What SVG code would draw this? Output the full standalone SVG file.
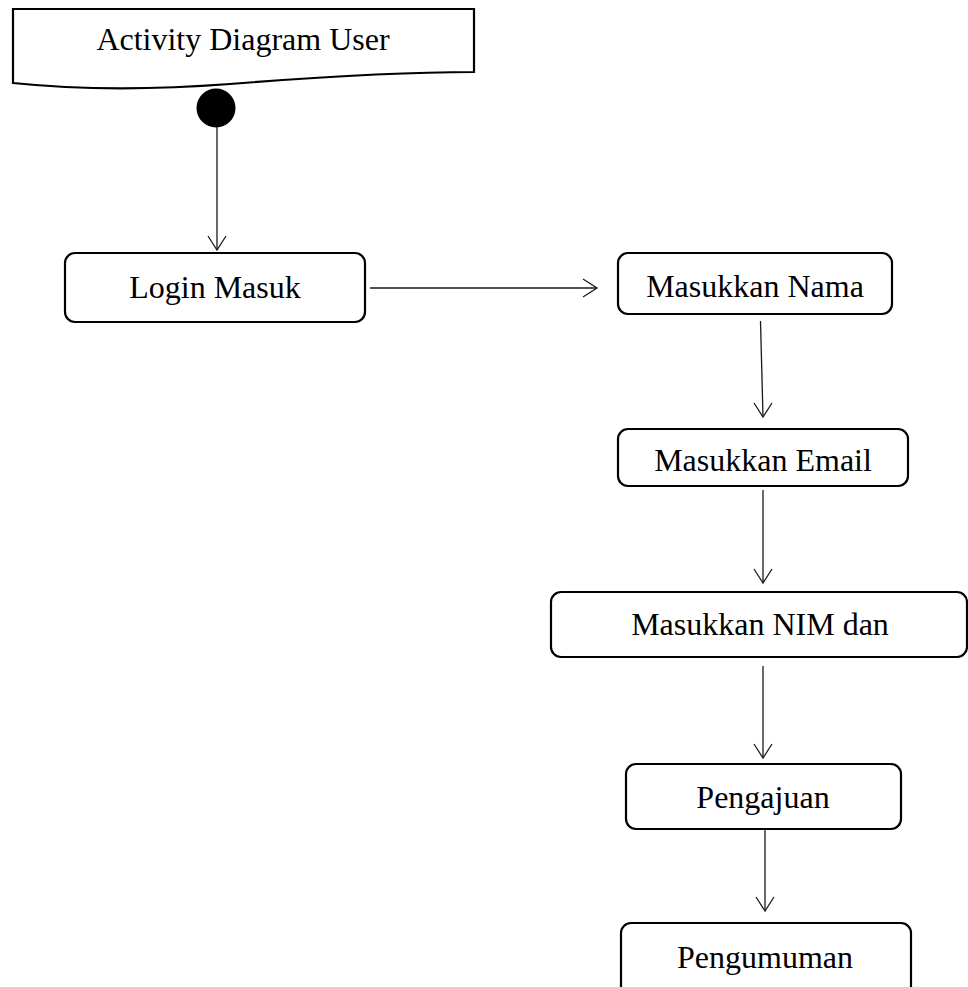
<svg xmlns="http://www.w3.org/2000/svg" width="968" height="987" viewBox="0 0 968 987">
  <style>
    .box { fill: #ffffff; stroke: #000000; stroke-width: 2.2; }
    .label { font-family: "Liberation Serif", "Times New Roman", serif; font-size: 32px; fill: #000000; text-anchor: middle; }
    .flow { fill: none; stroke: #1a1a1a; stroke-width: 1.3; }
    .head { fill: none; stroke: #1a1a1a; stroke-width: 1.3; stroke-linejoin: miter; }
  </style>
  <rect width="968" height="987" fill="#ffffff"/>

  <!-- title banner (note shape with wavy bottom) -->
  <g id="title">
    <path class="box" d="M13,9 L474,9 L474,72 C420,72 330,76 230,84 C150,90 80,90 13,83 Z"/>
    <text class="label" x="243" y="50">Activity Diagram User</text>
  </g>

  <!-- start node -->
  <g id="start">
    <circle cx="216" cy="108" r="19.5" fill="#000000"/>
  </g>

  <g id="login">
    <rect class="box" x="65" y="253" width="300" height="69" rx="10" ry="10"/>
    <text class="label" x="215" y="298">Login Masuk</text>
  </g>

  <g id="nama">
    <rect class="box" x="618" y="253" width="274" height="61" rx="10" ry="10"/>
    <text class="label" x="755" y="297">Masukkan Nama</text>
  </g>

  <g id="email">
    <rect class="box" x="618" y="429" width="290" height="57" rx="10" ry="10"/>
    <text class="label" x="763" y="471">Masukkan Email</text>
  </g>

  <g id="nim">
    <rect class="box" x="551" y="592" width="416" height="65" rx="10" ry="10"/>
    <text class="label" x="760" y="635">Masukkan NIM dan</text>
  </g>

  <g id="pengajuan">
    <rect class="box" x="626" y="764" width="275" height="65" rx="10" ry="10"/>
    <text class="label" x="763" y="808">Pengajuan</text>
  </g>

  <g id="pengumuman">
    <rect class="box" x="621" y="923" width="290" height="80" rx="10" ry="10"/>
    <text class="label" x="765" y="968">Pengumuman</text>
  </g>

  <!-- transitions -->
  <g id="connectors">
    <line class="flow" x1="217" y1="127" x2="217" y2="250"/>
    <polyline class="head" points="208,236 217,250 226,236"/>

    <line class="flow" x1="370" y1="288" x2="597" y2="288"/>
    <polyline class="head" points="583,279 597,288 583,297"/>

    <line class="flow" x1="760.5" y1="321" x2="763" y2="417"/>
    <polyline class="head" points="754,403 763,417 772,403"/>

    <line class="flow" x1="763" y1="490" x2="763" y2="583"/>
    <polyline class="head" points="754,569 763,583 772,569"/>

    <line class="flow" x1="763" y1="666" x2="763" y2="758"/>
    <polyline class="head" points="754,744 763,758 772,744"/>

    <line class="flow" x1="765" y1="830" x2="765" y2="911"/>
    <polyline class="head" points="756,897 765,911 774,897"/>
  </g>
</svg>
